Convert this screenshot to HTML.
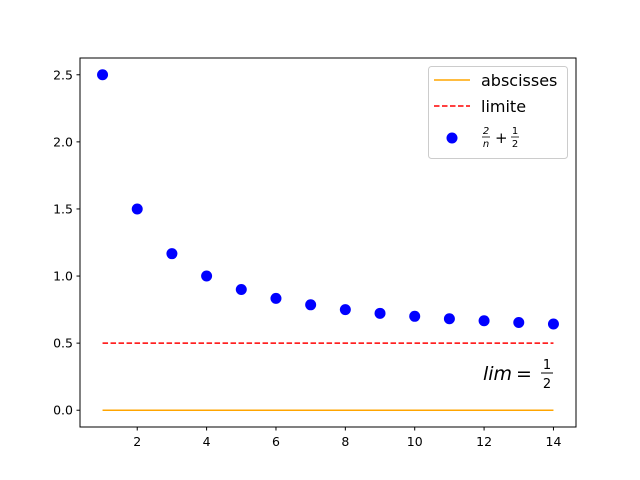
<!DOCTYPE html>
<html><head><meta charset="utf-8"><style>
body{margin:0;background:#fff;}
svg{display:block;font-family:"DejaVu Sans","Liberation Sans",sans-serif;}
</style></head><body>
<svg id="chart" width="640" height="480" viewBox="0 0 640 480">
<rect x="0" y="0" width="640" height="480" fill="#fff"/>
<g id="plot"></g>
<rect x="80" y="58" width="496" height="369" fill="none" stroke="#000" stroke-width="1"/>
<g id="xticks"></g>
<g id="yticks"></g>
<g>
<text x="483" y="380" font-size="19" font-style="italic">lim</text>
<text x="516" y="380" font-size="19">=</text>
<text x="547" y="369" font-size="13" text-anchor="middle">1</text>
<line x1="541" y1="373" x2="553" y2="373" stroke="#000" stroke-width="1"/>
<text x="547" y="388" font-size="13" text-anchor="middle">2</text>
</g>
<g>
<rect x="428.5" y="66.5" width="139" height="92" rx="3" fill="#fff" fill-opacity="0.8" stroke="#ccc"/>
<g>
<line x1="434" y1="80" x2="470" y2="80" stroke="orange" stroke-width="1.5"/>
<text x="481" y="86" font-size="16">abscisses</text></g>
<g>
<line x1="434" y1="106" x2="470" y2="106" stroke="red" stroke-width="1.5" stroke-dasharray="5.5,2.5"/>
<text x="481" y="112" font-size="16">limite</text></g>
<g>
<circle cx="452" cy="138" r="5.5" fill="blue"/>
<text x="486" y="134" font-size="10" text-anchor="middle" font-style="italic">2</text>
<line x1="482" y1="137" x2="490" y2="137" stroke="#000" stroke-width="0.8"/>
<text x="486" y="147" font-size="10" text-anchor="middle" font-style="italic">n</text>
<text x="495" y="143" font-size="15">+</text>
<text x="515" y="134" font-size="10" text-anchor="middle">1</text>
<line x1="511" y1="137" x2="519" y2="137" stroke="#000" stroke-width="0.8"/>
<text x="515" y="147" font-size="10" text-anchor="middle">2</text></g>
</g>
</svg>
<script>
const categories=[1,2,3,4,5,6,7,8,9,10,11,12,13,14];
const seqValues=[2.5,1.5,1.1667,1.0,0.9,0.8333,0.7857,0.75,0.7222,0.7,0.6818,0.6667,0.6538,0.6429];
const limitValue=0.5;
const abscissaValue=0;
const xTickLabels=[2,4,6,8,10,12,14];
const yTickLabels=[0.0,0.5,1.0,1.5,2.0,2.5];
const NS="http://www.w3.org/2000/svg";
function sx(v){return 80+(v-0.35)/(14.3)*496;}
function sy(v){return 427-(v+0.125)/2.75*369;}
function mk(tag,attrs,parent){const e=document.createElementNS(NS,tag);for(const k in attrs)e.setAttribute(k,attrs[k]);parent.appendChild(e);return e;}
const plot=document.getElementById('plot');
const x0=categories[0],x1=categories[categories.length-1];
let l=mk('line',{x1:sx(x0),x2:sx(x1),y1:sy(abscissaValue),y2:sy(abscissaValue),stroke:'orange','stroke-width':1.5},plot);


l=mk('line',{x1:sx(x0),x2:sx(x1),y1:sy(limitValue),y2:sy(limitValue),stroke:'red','stroke-width':1.5,'stroke-dasharray':'5.5,2.5'},plot);


categories.forEach((c,i)=>{const p=mk('circle',{cx:sx(c),cy:sy(seqValues[i]),r:5.5,fill:'blue'},plot);

});
const xt=document.getElementById('xticks');
xTickLabels.forEach(v=>{const g=mk('g',{},xt);


mk('line',{x1:sx(v),x2:sx(v),y1:427,y2:430.5,stroke:'#000'},g);
const t=mk('text',{x:sx(v),y:446,'font-size':12.5,'text-anchor':'middle'},g);t.textContent=v;});
const yt=document.getElementById('yticks');
yTickLabels.forEach(v=>{const g=mk('g',{},yt);


mk('line',{x1:76.5,x2:80,y1:sy(v),y2:sy(v),stroke:'#000'},g);
const t=mk('text',{x:73,y:sy(v)+4.5,'font-size':12.5,'text-anchor':'end'},g);t.textContent=v.toFixed(1);});
</script>
</body></html>
